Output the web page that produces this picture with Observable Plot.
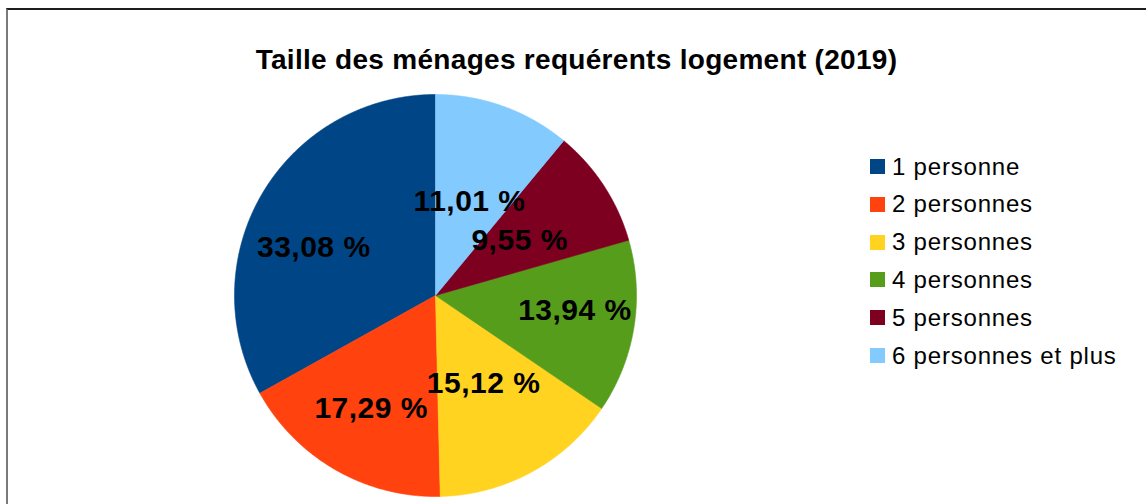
<!DOCTYPE html>
<html><head><meta charset="utf-8">
<script src="https://cdn.jsdelivr.net/npm/d3@7"></script>
<script src="https://cdn.jsdelivr.net/npm/@observablehq/plot@0.6"></script>
<style>
html,body{margin:0;padding:0;background:#fff;overflow:hidden;}
#root{position:relative;width:1146px;height:504px;overflow:hidden;font-family:"Liberation Sans",Arial,sans-serif;background:#fff;}
#frame{position:absolute;left:6px;top:8px;width:1300px;height:700px;border-top:2px solid #1e1e1e;border-left:2px solid #7a7a7a;}
#title{position:absolute;left:0;width:1153px;top:45.6px;text-align:center;font-weight:bold;font-size:28px;line-height:28px;letter-spacing:0.3px;color:#000;white-space:nowrap;}
#pie{position:absolute;left:224px;top:84px;}
#legend{position:absolute;left:870px;top:147.6px;}
.row{display:flex;align-items:center;height:37.8px;font-size:24px;line-height:37.8px;letter-spacing:0.8px;color:#000;white-space:nowrap;}
.sw{width:15px;height:15px;margin-right:7px;flex:none;}
#pie text{letter-spacing:0.5px;}
</style></head>
<body><div id="root"><div id="frame"></div><div id="title"></div><div id="pie"></div><div id="legend"></div></div>
<script>
const title = "Taille des ménages requérents logement (2019)";
const categories = ["1 personne","2 personnes","3 personnes","4 personnes","5 personnes","6 personnes et plus"];
const shares = [33.08, 17.29, 15.12, 13.94, 9.55, 11.01];
const colors = ["#004586","#ff420e","#ffd320","#579d1c","#7e0021","#83caff"];

document.getElementById("title").textContent = title;

const fmt = v => v.toFixed(2).replace(".", ",") + " %";
const total = d3.sum(shares);
let acc = 0;
const slices = categories.map((c, i) => {
  const a0 = acc / total * 2 * Math.PI; acc += shares[i];
  const a1 = acc / total * 2 * Math.PI;
  return {c, v: shares[i], a0, a1};
});

// slice outlines (angle counter-clockwise from 12 o'clock)
const pts = [];
for (const s of slices) {
  pts.push({c: s.c, x: 0, y: 0});
  const n = Math.max(2, Math.ceil((s.a1 - s.a0) / (Math.PI / 720)));
  for (let k = 0; k <= n; k++) {
    const a = s.a0 + (s.a1 - s.a0) * k / n;
    pts.push({c: s.c, x: -Math.sin(a), y: Math.cos(a)});
  }
  pts.push({c: s.c, x: 0, y: 0});
}

// label placement ("best fit"-like): outward-aligned if it fits inside the slice, else centred; then collision push
const R = 201, FS = 30, LS = 0.5, H = 22, MARGIN = 2;
const ctx = document.createElement("canvas").getContext("2d");
ctx.font = `bold ${FS}px 'Liberation Sans'`;
const mkBox = (cx, cy, w) => ({x0: cx - w / 2, x1: cx + w / 2, y0: cy - H / 2, y1: cy + H / 2, cx, cy});
const fits = (b, s) => {
  const corners = [[b.x0, b.y0], [b.x1, b.y0], [b.x0, b.y1], [b.x1, b.y1]];
  const e0 = [-Math.sin(s.a0), -Math.cos(s.a0)], e1 = [-Math.sin(s.a1), -Math.cos(s.a1)];
  return corners.every(([x, y]) => {
    if (Math.hypot(x, y) > R - MARGIN) return false;
    let th = Math.atan2(-x, -y); if (th < 0) th += 2 * Math.PI;
    if (th < s.a0 || th > s.a1) return false;
    const d0 = Math.abs(x * e0[1] - y * e0[0]), d1 = Math.abs(x * e1[1] - y * e1[0]);
    return d0 >= MARGIN && d1 >= MARGIN;
  });
};
const labels = slices.map(s => {
  const t = fmt(s.v);
  const w = ctx.measureText(t).width + LS * t.length;
  const mid = (s.a0 + s.a1) / 2, dx = -Math.sin(mid), dy = -Math.cos(mid);
  const ra = 0.42 * R;
  let b = mkBox(dx * ra + dx * w / 2, dy * ra + dy * H / 2, w);
  let centred = false;
  if (!fits(b, s)) { b = mkBox(dx * 0.5 * R, dy * 0.5 * R, w); centred = true; }
  return {c: s.c, text: t, w, dx, dy, b, centred};
});
const overlap = (a, b) => a.x0 < b.x1 + 2 && b.x0 < a.x1 + 2 && a.y0 < b.y1 + 2 && b.y0 < a.y1 + 2;
const placed = [];
for (const L of [...labels].reverse()) {
  let b = L.b, t = 0;
  while (placed.some(p => overlap(p, b)) && t < R) { t += 1; b = mkBox(L.b.cx + L.dx * t, L.b.cy + L.dy * t, L.w); }
  placed.push(b);
  L.x = b.cx / R; L.y = -b.cy / R;
}

const chart = Plot.plot({
  width: 422, height: 422, margin: 10,
  x: {domain: [-1, 1], axis: null},
  y: {domain: [-1, 1], axis: null},
  color: {domain: categories, range: colors},
  style: {fontFamily: "'Liberation Sans', Arial, sans-serif", background: "transparent", overflow: "visible"},
  marks: [
    Plot.line(pts, {x: "x", y: "y", z: "c", fill: "c", stroke: "c", strokeWidth: 0.6, curve: "linear"}),
    Plot.text(labels, {x: "x", y: "y", text: "text", fontSize: FS, fontWeight: "bold", fill: "black"})
  ]
});
document.getElementById("pie").appendChild(chart);

const color = chart.scale("color");
const legend = document.getElementById("legend");
for (const c of categories) {
  const row = document.createElement("div"); row.className = "row";
  const sw = document.createElement("div"); sw.className = "sw"; sw.style.background = color.apply(c);
  const tx = document.createElement("span"); tx.textContent = c;
  row.appendChild(sw); row.appendChild(tx); legend.appendChild(row);
}
</script>
</body></html>
